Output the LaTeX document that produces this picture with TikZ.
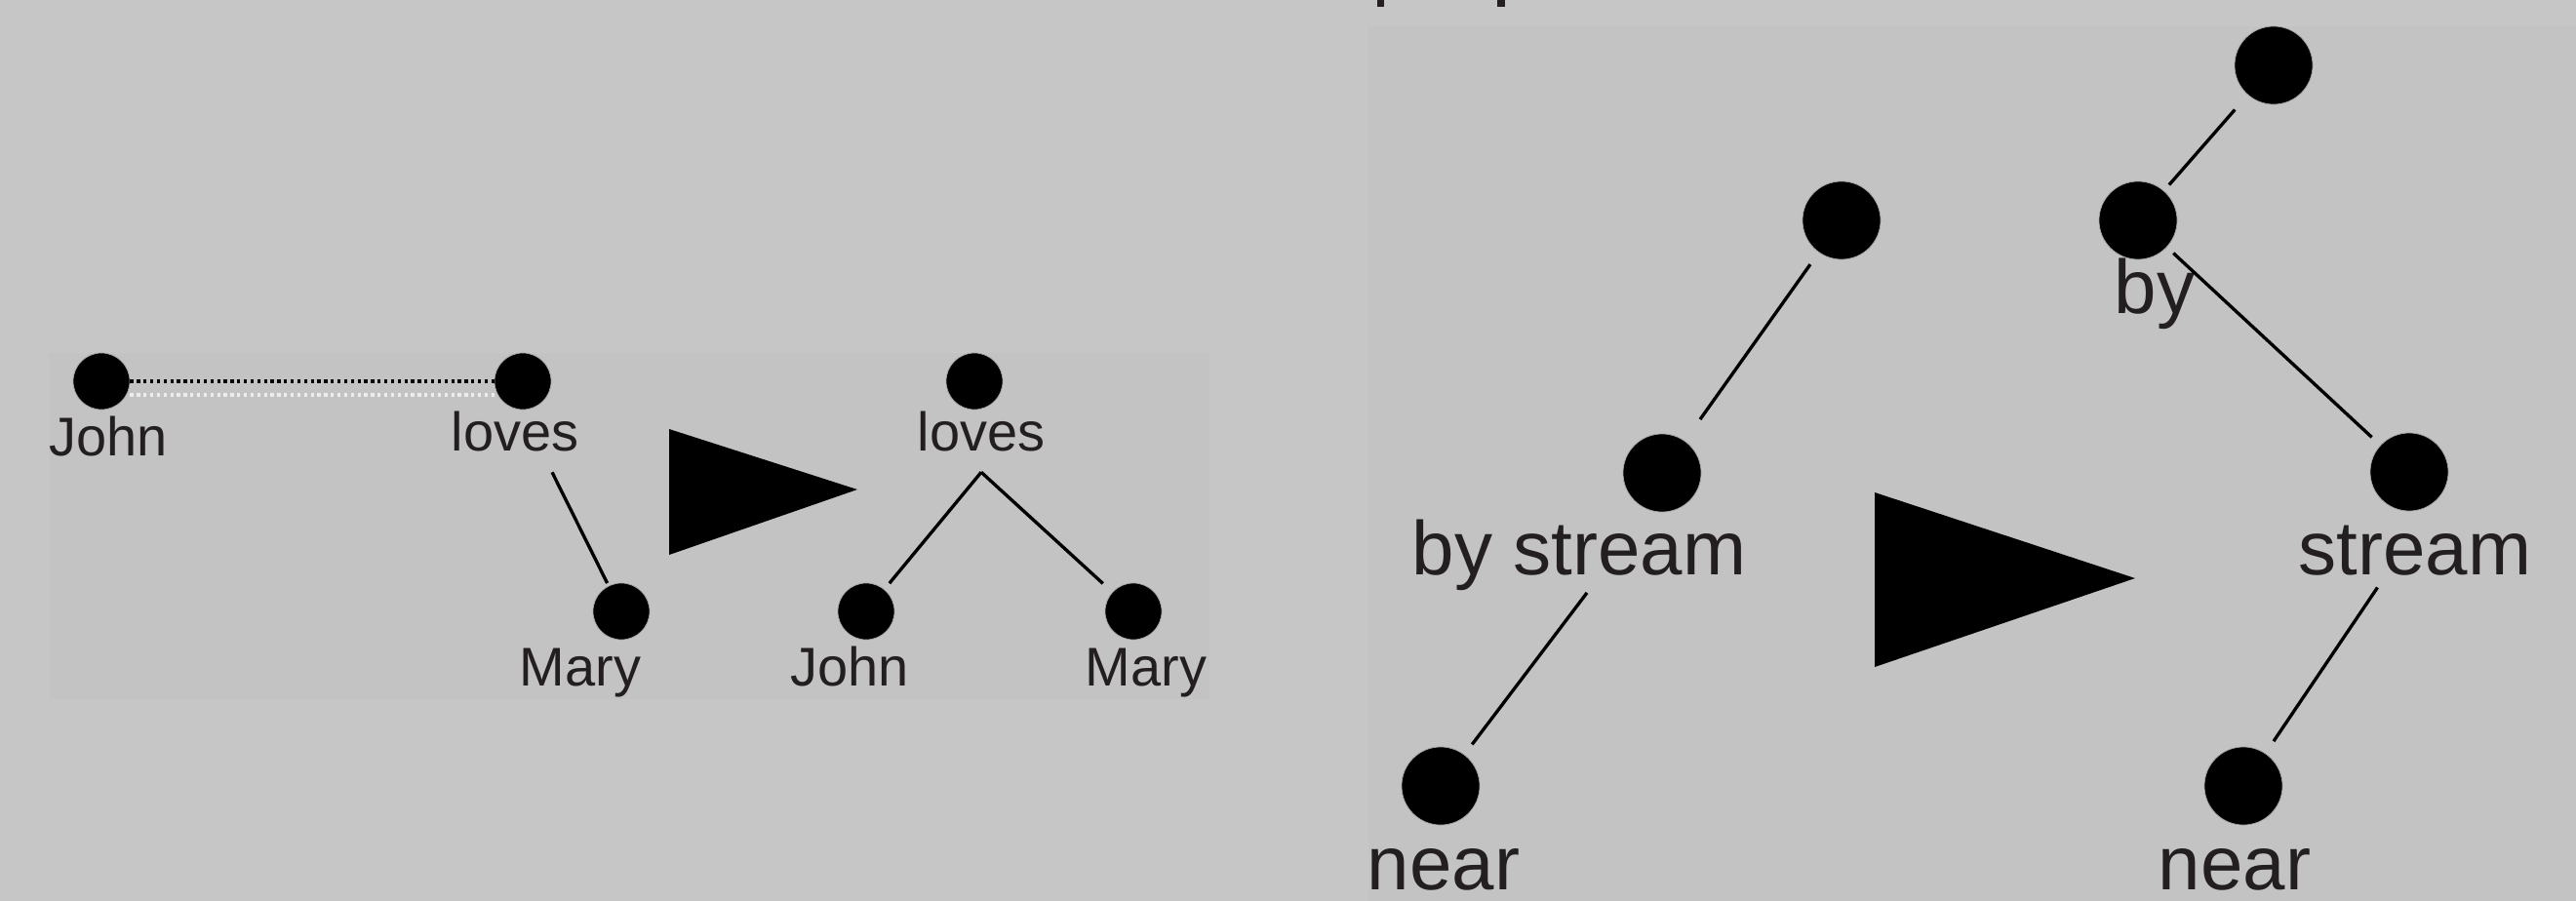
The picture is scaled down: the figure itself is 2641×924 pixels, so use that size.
\documentclass[tikz,border=0pt]{standalone}
\usepackage{fontspec}
\setmainfont{Liberation Sans}
\definecolor{bgray}{RGB}{197,198,197}
\definecolor{pgray}{RGB}{195,195,195}
\definecolor{ink}{RGB}{35,31,32}
\tikzset{
  leaf/.style={circle, fill=black, draw=gray!70, very thin, inner sep=0pt, minimum size=0.58cm},
  bigleaf/.style={leaf, minimum size=0.8cm},
  word/.style={anchor=base, inner sep=0pt, text=ink, font=\fontsize{15.9}{19}\selectfont},
  bigword/.style={word, font=\fontsize{22.2}{26}\selectfont},
  edge/.style={line width=0.95pt}
}
\begin{document}
\begin{tikzpicture}[x=0.01cm, y=-0.01cm]
  \useasboundingbox (0,0) rectangle (2641,924);
  \fill[bgray] (0,0) rectangle (2641,924);
  \fill[pgray] (50,362) rectangle (1240,717);
  \fill[pgray] (1403,27) rectangle (2641,924);
  \fill[ink] (1412,0) rectangle (1419,7);
  \fill[ink] (1535,0) rectangle (1543,7);

  % John loves Mary
  \foreach \nm/\x/\y in {j1/104/391, l1/536/391, m1/637/627, l2/999/391, j2/888/627, m2/1162/627}
    \node[leaf] (\nm) at (\x,\y) {};
  \foreach \nm/\x/\y/\txt in {j1/111/467/John, l1/528/462/loves, m1/595/703/Mary, l2/1006/462/loves, j2/871/703/John, m2/1175/703/Mary}
    \node[word] (\nm-t) at (\x,\y) {\txt};

  \draw[edge, densely dotted] (j1) -- (l1);
  \draw[edge, densely dotted, white!85!gray] ([yshift=-0.14cm]j1.east) -- ([yshift=-0.14cm]l1.west);
  \draw[edge, shorten >=0.03cm] ([xshift=0.38cm,yshift=-0.21cm]l1-t.south) -- (m1);
  \draw[edge, shorten >=0.08cm] ([yshift=-0.21cm]l2-t.south) -- (j2);
  \draw[edge, shorten >=0.13cm] ([yshift=-0.21cm]l2-t.south) -- (m2);
  \fill (686,440) -- (686,569) -- (879,502) -- cycle;

  % near by stream
  \foreach \nm/\x/\y in {t1/1888/226, s1/1704/485, n1/1477/806, t2/2331/67, b2/2192/226, s2/2470/484, n2/2300/806}
    \node[bigleaf] (\nm) at (\x,\y) {};
  \foreach \nm/\x/\y/\txt in {s1/1619/589/by stream, n1/1480/912/near, b2/2209/321/by, s2/2476/589/stream, n2/2291/912/near}
    \node[bigword] (\nm-t) at (\x,\y) {\txt};

  \draw[edge, shorten <=0.15cm, shorten >=0.27cm] (t1) -- (s1);
  \draw[edge, shorten >=0.13cm] ([xshift=0.08cm,yshift=-0.02cm]s1-t.south) -- (n1);
  \draw[edge, shorten <=0.2cm, shorten >=0.08cm] (t2) -- (b2);
  \draw[edge, shorten <=0.09cm, shorten >=0.12cm] (b2) -- (s2);
  \draw[edge, shorten >=0.15cm] ([xshift=-0.385cm,yshift=-0.12cm]s2-t.south) -- (n2);
  \fill (1922,505) -- (1922,684) -- (2189,593) -- cycle;
\end{tikzpicture}
\end{document}
